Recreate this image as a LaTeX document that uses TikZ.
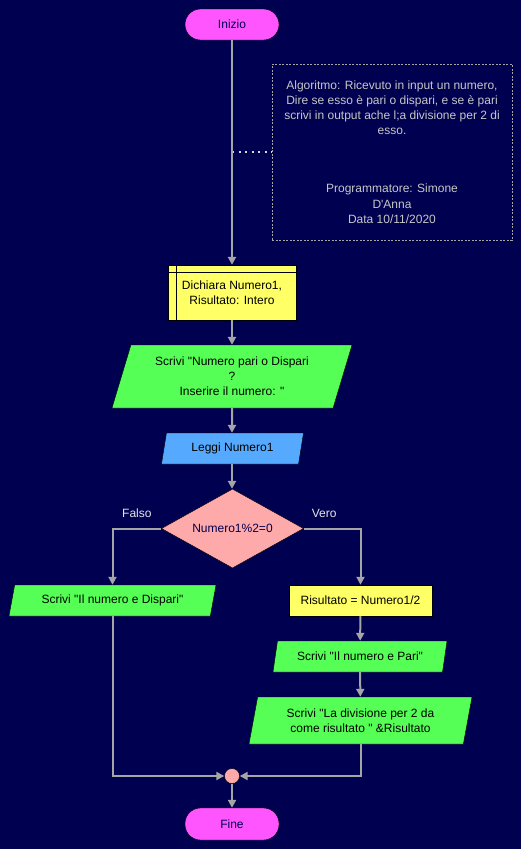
\documentclass[tikz,border=0pt]{standalone}
\usepackage{fontspec}
\setmainfont{Liberation Sans}[Ligatures=TeXOff]
\usetikzlibrary{shapes.geometric}
\usetikzlibrary{arrows.meta}
\usetikzlibrary{positioning}
\definecolor{sfondo}{RGB}{0,0,80}
\definecolor{linea}{RGB}{165,165,165}
\definecolor{rosa}{RGB}{255,85,255}
\definecolor{verde}{RGB}{85,255,85}
\definecolor{giallo}{RGB}{255,255,102}
\definecolor{azzurro}{RGB}{85,170,255}
\definecolor{salmone}{RGB}{255,170,170}
\tikzset{
  testo/.style={font=\fontsize{12}{15}\selectfont, text=sfondo, align=center},
  terminale/.style={testo, draw=black, fill=rosa, rounded corners=15.5pt,
    minimum width=94pt, minimum height=31pt, inner sep=0pt},
  io/.style={testo, text=black, draw=black, fill=verde, trapezium, trapezium stretches body,
    inner sep=0pt, minimum height=31pt},
  processo/.style={testo, text=black, draw=black, fill=giallo, minimum height=31pt, inner sep=0pt},
  decisione/.style={testo, draw=black, fill=salmone, diamond, aspect=1.8, inner sep=0pt,
    minimum width=142pt, minimum height=79pt},
  flusso/.style={draw=linea, line width=2pt, -{Triangle[width=8pt,length=8pt]}},
  etichetta/.style={font=\fontsize{12}{15}\selectfont, text=white!90!black}
}
\begin{document}
\begin{tikzpicture}[x=1pt,y=-1pt]
\fill[sfondo] (0,0) rectangle (521,849);
\useasboundingbox (0,0) rectangle (521,849);
\node[terminale] (inizio) at (232,24.5) {Inizio};
\node[draw=linea, dashed, dash pattern=on 2pt off 1.5pt, minimum width=240pt, minimum height=176pt,
  font=\fontsize{12}{15.3}\selectfont, text=white!78!black, align=center, inner sep=0pt]
  (nota) at (392,152)
  {Algoritmo: Ricevuto in input un numero,\\Dire se esso è pari o dispari, e se è pari\\
   scrivi in output ache l;a divisione per 2 di\\esso.\\[42.7pt]
   Programmatore: Simone\\D'Anna\\Data 10/11/2020};
\node[processo, minimum width=128pt, minimum height=55pt] (dichiara) at (232,292.5)
  {Dichiara Numero1,\\Risultato: Intero};
\draw[black] ([yshift=-7.5pt]dichiara.north west) -- ([yshift=-7.5pt]dichiara.north east);
\draw[black] ([xshift=8pt]dichiara.north west) -- ([xshift=8pt]dichiara.south west);
\node[io, trapezium left angle=64, trapezium right angle=116, minimum width=240pt, minimum height=63pt]
  (scrivi) at (232,376.5) {Scrivi "Numero pari o Dispari\\?\\Inserire il numero: "};
\node[io, fill=azzurro, trapezium left angle=66, trapezium right angle=114, minimum width=142pt]
  (leggi) at (232.5,448.5) {Leggi Numero1};
\node[decisione] (condizione) at (232.5,528.5) {Numero1\%2=0};
\node[io, trapezium left angle=63, trapezium right angle=117, minimum width=207pt]
  (dispari) at (112.5,600.5) {Scrivi "Il numero e Dispari"};
\node[processo, minimum width=143pt] (risultato) at (360.5,600.5) {Risultato = Numero1/2};
\node[io, trapezium left angle=63, trapezium right angle=117, minimum width=174pt]
  (pari) at (360,656.5) {Scrivi "Il numero e Pari"};
\node[io, trapezium left angle=70, trapezium right angle=110, minimum width=223pt, minimum height=47pt]
  (divisione) at (360.5,720.5) {Scrivi "La divisione per 2 da\\come risultato " \&Risultato};
\node[circle, draw=black, fill=salmone, minimum size=15pt, inner sep=0pt] (unione) at (232,776) {};
\node[terminale, minimum height=32pt] (fine) at (232,824) {Fine};
\coordinate (aggancio) at (inizio.south |- nota.west);
\draw[draw=white!85!black, line width=1.5pt, dash pattern=on 2pt off 4.5pt] (aggancio) -- (nota.west);
\draw[flusso] (inizio) -- (dichiara);
\draw[flusso] (dichiara) -- (scrivi);
\draw[flusso] (scrivi) -- (scrivi |- leggi.north);
\draw[flusso] (leggi.south -| scrivi) -- (scrivi |- condizione.north);
\draw[flusso] (condizione.west) -| node[etichetta, pos=0.25, above=7pt] (falso) {Falso} (dispari.north);
\draw[flusso] (condizione.east) -| node[etichetta, pos=0.18, above=7pt] (vero) {Vero} (risultato.north);
\draw[flusso] (risultato) -- (pari);
\draw[flusso] (pari) -- (divisione);
\draw[flusso] (divisione.south) |- (unione.east);
\draw[flusso] (dispari.south) |- (unione.west);
\draw[flusso] (unione) -- (fine);
\end{tikzpicture}
\end{document}
